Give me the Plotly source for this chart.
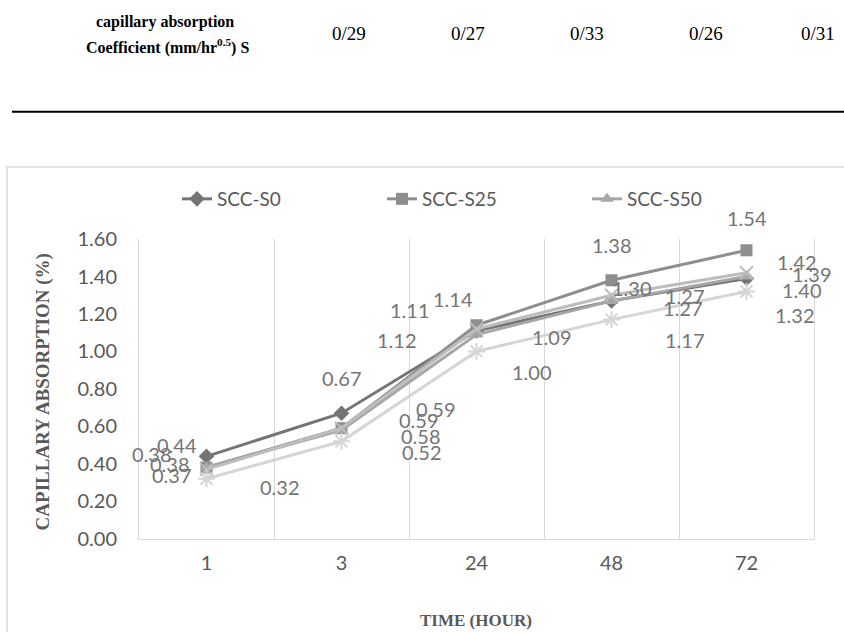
import plotly.graph_objects as go

# ---- data ----
hours = ["1", "3", "24", "48", "72"]
series_names = ["SCC-S0", "SCC-S25", "SCC-S50", "SCC-S75", "SCC-S100"]
scc_s0 = [0.44, 0.67, 1.11, 1.27, 1.39]
scc_s25 = [0.38, 0.59, 1.14, 1.38, 1.54]
scc_s50 = [0.38, 0.58, 1.09, 1.27, 1.40]
scc_s75 = [0.37, 0.59, 1.12, 1.30, 1.42]
scc_s100 = [0.32, 0.52, 1.00, 1.17, 1.32]
coef_values = ["0/29", "0/27", "0/33", "0/26", "0/31"]
y_ticks = [0, 0.2, 0.4, 0.6, 0.8, 1.0, 1.2, 1.4, 1.6]

all_series = [scc_s0, scc_s25, scc_s50, scc_s75, scc_s100]

# ---- styles ----
W, H = 844, 632
VS = 0.96      # vertical compensation
VO = 12.4
def px(x): return x / W
def py(y): return 1 - ((y - VO) / VS) / H

colors = ["#747474", "#8e8e8e", "#a6a6a6", "#bdbdbd", "#d5d5d5"]
symbols = ["diamond", "square", "triangle-up", "x-thin-open", "asterisk-open"]
msizes = [12, 12, 12, 13, 14]
show_leg = [True, True, True, False, False]

# label offsets (pixels: dx right, dy down) per series per point
label_offsets = [
    [(-30, -11), (0, -34), (-67, -20), (73, -5), (65, -4)],
    [(-55, -13), (94, -18), (-24, -25), (0, -34), (0, -31)],
    [(-37, -3), (79, 6), (75, 2), (71, 7), (55, 13)],
    [(-35, 5), (77, -8), (-80, 11), (20, -7), (50, -10)],
    [(73, 8), (80, 10), (55, 20), (73, 20), (48, 23)],
]

chart_font = "Lato, 'Open Sans', sans-serif"
serif = "'Liberation Serif', 'DejaVu Serif', serif"

fig = go.Figure()
for i, vals in enumerate(all_series):
    is_open = symbols[i].endswith("open")
    fig.add_trace(go.Scatter(
        x=hours, y=vals, name=series_names[i], mode="lines+markers",
        line=dict(color=colors[i], width=3),
        marker=dict(symbol=symbols[i], size=msizes[i], color=colors[i],
                    line=dict(color=colors[i], width=2 if is_open else 0)),
        showlegend=show_leg[i],
    ))

annotations = []
for i, vals in enumerate(all_series):
    for j, v in enumerate(vals):
        dx, dy = label_offsets[i][j]
        annotations.append(dict(
            x=j, y=v, xref="x", yref="y", text=f"{v:.2f}",
            showarrow=False, xshift=dx, yshift=-dy / VS,
            xanchor="center", yanchor="middle",
            font=dict(family=chart_font, size=20, color="#757575"),
        ))

# axis titles
annotations.append(dict(
    x=px(43), y=py(391), xref="paper", yref="paper", text="<b>CAPILLARY ABSORPTION (%)</b>",
    textangle=-90, showarrow=False, xanchor="center", yanchor="middle",
    font=dict(family=serif, size=19, color="#595959"),
))
annotations.append(dict(
    x=px(476), y=py(619), xref="paper", yref="paper", text="<b>TIME (HOUR)</b>",
    showarrow=False, xanchor="center", yanchor="middle",
    font=dict(family=serif, size=17, color="#595959"),
))

# top table row
annotations.append(dict(
    x=px(165), y=py(21), xref="paper", yref="paper",
    text="<b>capillary absorption</b>",
    showarrow=False, xanchor="center", yanchor="middle",
    font=dict(family=serif, size=16, color="#000000"),
))
annotations.append(dict(
    x=px(167), y=py(46), xref="paper", yref="paper",
    text="<b>Coefficient (mm/hr<sup>0.5</sup>) S</b>",
    showarrow=False, xanchor="center", yanchor="middle",
    font=dict(family=serif, size=16, color="#000000"),
))
coef_x = [349, 468, 587, 706, 818]
for cx, val in zip(coef_x, coef_values):
    annotations.append(dict(
        x=px(cx), y=py(33), xref="paper", yref="paper", text=val,
        showarrow=False, xanchor="center", yanchor="middle",
        font=dict(family=serif, size=19, color="#000000"),
    ))

shapes = [
    dict(type="line", xref="paper", yref="paper", x0=px(12), x1=px(850), y0=py(111), y1=py(111),
         line=dict(color="#000000", width=2)),
    dict(type="rect", xref="paper", yref="paper", x0=px(7), x1=px(880), y0=py(166), y1=py(700),
         line=dict(color="#d9d9d9", width=1.5), layer="below"),
]

fig.update_layout(
    width=W, height=H, margin=dict(l=0, r=0, t=0, b=0),
    paper_bgcolor="white", plot_bgcolor="white",
    annotations=annotations, shapes=shapes,
    legend=dict(orientation="h", x=px(177), y=py(198), xanchor="left", yanchor="middle",
                font=dict(family=chart_font, size=19, color="#595959"),
                entrywidthmode="pixels", entrywidth=160, bgcolor="rgba(0,0,0,0)"),
    xaxis=dict(type="category", categoryorder="array", categoryarray=hours,
               domain=[px(139), px(814)], range=[-0.5, 4.5],
               tickson="boundaries", showgrid=True, gridcolor="#d9d9d9", gridwidth=1,
               showline=True, linecolor="#d9d9d9", linewidth=1, ticks="",
               tickfont=dict(family=chart_font, size=20, color="#595959"),
               ticklabelstandoff=6, zeroline=False),
    yaxis=dict(domain=[py(537), py(238)], range=[0, 1.6], tickvals=y_ticks, tickformat=".2f",
               showgrid=False, zeroline=False, showline=True, mirror=True,
               linecolor="#d9d9d9", linewidth=1, ticks="",
               tickfont=dict(family=chart_font, size=20, color="#595959"),
               ticklabelstandoff=17),
)

fig.write_html(
    "out.html",
    config={"displayModeBar": False},
    post_script="document.body.style.margin='0';document.body.style.overflow='hidden';",
)
